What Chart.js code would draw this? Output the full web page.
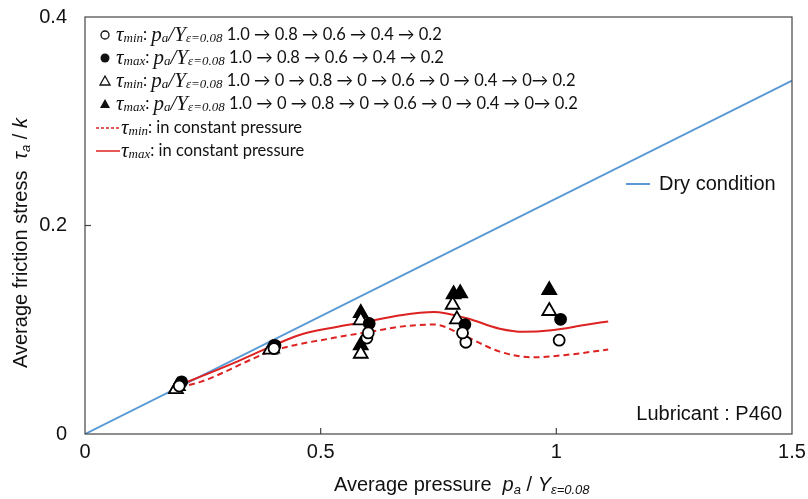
<!DOCTYPE html>
<html>
<head>
<meta charset="utf-8">
<script src="https://cdn.jsdelivr.net/npm/chart.js@4"></script>
<style>
  html, body { margin: 0; padding: 0; background: #fff; }
  #wrap { width: 808px; height: 499px; }
</style>
</head>
<body>
<div id="wrap"><canvas id="chart" width="808" height="499"></canvas></div>
<script>
// Measured points (pa/Y, tau/k)
const openCircleX = [1.006, 0.808, 0.801, 0.598, 0.601, 0.401, 0.200];
const openCircleY = [0.090, 0.088, 0.097, 0.092, 0.097, 0.082, 0.046];
const fillCircleX = [1.009, 0.806, 0.603, 0.403, 0.205];
const fillCircleY = [0.110, 0.105, 0.106, 0.085, 0.050];
const openTriX = [0.985, 0.780, 0.789, 0.585, 0.585, 0.393, 0.193];
const openTriY = [0.118, 0.124, 0.110, 0.109, 0.077, 0.081, 0.043];
const fillTriX = [0.985, 0.782, 0.796, 0.585, 0.585, 0.397, 0.197];
const fillTriY = [0.138, 0.134, 0.135, 0.116, 0.085, 0.082, 0.046];

// Constant pressure curves
const maxCurveX = [0.2, 0.245, 0.315, 0.4, 0.455, 0.525, 0.6, 0.67, 0.74, 0.81, 0.88, 0.93, 0.99, 1.06, 1.11];
const maxCurveY = [0.047, 0.055, 0.068, 0.085, 0.095, 0.102, 0.108, 0.114, 0.117, 0.111, 0.101, 0.098, 0.0995, 0.1045, 0.108];
const minCurveX = [0.2, 0.245, 0.4, 0.525, 0.63, 0.67, 0.74, 0.81, 0.88, 0.95, 1.02, 1.11];
const minCurveY = [0.045, 0.050, 0.080, 0.092, 0.100, 0.103, 0.105, 0.093, 0.079, 0.0735, 0.0758, 0.081];

// Dry condition line
const dryX = [0, 1.5];
const dryY = [0, 0.339];

const xTicks = [0, 0.5, 1, 1.5];
const yTicks = [0, 0.2, 0.4];

const toPts = (xs, ys) => xs.map((x, i) => ({ x: x, y: ys[i] }));
const RED = '#dd2222';
const BLUE = '#5b9bd5';

// draws a run of [text, font, dy] pieces, returns end x
function drawRuns(ctx, x, y, runs) {
  runs.forEach(r => {
    ctx.font = r[1];
    ctx.fillText(r[0], x, y + (r[2] || 0));
    x += ctx.measureText(r[0]).width;
  });
  return x;
}

const M = 'italic 21px "Liberation Serif"';
const S = 'italic 13px "Liberation Serif"';
const T = '16.5px Lato';

function tauRuns(sub) {
  return [['τ', M], [sub, S, 4], [': ', T]];
}
const paY = [['p', M], ['a', S, 4], ['/', M], ['Y', M], ['ε=0.08', S, 4], [' ', T]];

const decor = {
  id: 'decor',
  afterDatasetsDraw(chart) {
    const ctx = chart.ctx;
    const a = chart.chartArea;
    const xs = chart.scales.x, ys = chart.scales.y;
    ctx.save();
    // frame
    ctx.strokeStyle = '#444';
    ctx.lineWidth = 1.2;
    ctx.strokeRect(a.left, a.top, a.right - a.left, a.bottom - a.top);
    // inner ticks
    xTicks.slice(1, -1).forEach(v => {
      const px = xs.getPixelForValue(v);
      ctx.beginPath(); ctx.moveTo(px, a.bottom); ctx.lineTo(px, a.bottom - 6); ctx.stroke();
    });
    yTicks.slice(1, -1).forEach(v => {
      const py = ys.getPixelForValue(v);
      ctx.beginPath(); ctx.moveTo(a.left, py); ctx.lineTo(a.left + 6, py); ctx.stroke();
    });

    ctx.fillStyle = '#111';
    ctx.textBaseline = 'middle';
    ctx.textAlign = 'left';

    // legend of markers
    const rows = [35, 58, 81, 104, 128, 151];
    const seq1 = '1.0 → 0.8 → 0.6 → 0.4 → 0.2';
    const seq2 = '1.0 → 0 → 0.8 → 0 → 0.6 → 0 → 0.4 → 0→ 0.2';
    const mx = 105, tx = 116;
    ctx.lineWidth = 1.3;
    ctx.strokeStyle = '#111';
    // open circle
    ctx.beginPath(); ctx.arc(mx, rows[0], 4, 0, Math.PI * 2); ctx.stroke();
    drawRuns(ctx, tx, rows[0], tauRuns('min').concat(paY, [[seq1, T]]));
    // filled circle
    ctx.beginPath(); ctx.arc(mx, rows[1], 4.5, 0, Math.PI * 2); ctx.fill();
    drawRuns(ctx, tx, rows[1], tauRuns('max').concat(paY, [[seq1, T]]));
    // open triangle
    ctx.beginPath(); ctx.moveTo(mx, rows[2] - 5); ctx.lineTo(mx + 5, rows[2] + 4); ctx.lineTo(mx - 5, rows[2] + 4); ctx.closePath(); ctx.stroke();
    drawRuns(ctx, tx, rows[2], tauRuns('min').concat(paY, [[seq2, T]]));
    // filled triangle
    ctx.beginPath(); ctx.moveTo(mx, rows[3] - 5); ctx.lineTo(mx + 5, rows[3] + 4); ctx.lineTo(mx - 5, rows[3] + 4); ctx.closePath(); ctx.fill();
    drawRuns(ctx, tx, rows[3], tauRuns('max').concat(paY, [[seq2, T]]));
    // curves
    ctx.strokeStyle = RED;
    ctx.lineWidth = 1.5;
    ctx.setLineDash([3, 2]);
    ctx.beginPath(); ctx.moveTo(96, rows[4]); ctx.lineTo(120, rows[4]); ctx.stroke();
    ctx.setLineDash([]);
    ctx.beginPath(); ctx.moveTo(96, rows[5]); ctx.lineTo(120, rows[5]); ctx.stroke();
    drawRuns(ctx, 121, rows[4], tauRuns('min').concat([['in constant pressure', T]]));
    drawRuns(ctx, 121, rows[5], tauRuns('max').concat([['in constant pressure', T]]));

    const XS = '20px "Liberation Sans"';
    const XI = 'italic 20px "Liberation Sans"';
    const XSub = 'italic 13px "Liberation Sans"';

    // dry condition legend
    ctx.strokeStyle = BLUE;
    ctx.lineWidth = 2;
    ctx.beginPath(); ctx.moveTo(626, 184); ctx.lineTo(650, 184); ctx.stroke();
    ctx.font = XS;
    ctx.fillText('Dry condition', 659, 184);

    // lubricant note
    ctx.textAlign = 'right';
    ctx.fillText('Lubricant : P460', 782, 414);

    // x title
    ctx.textAlign = 'left';
    drawRuns(ctx, 334, 485, [['Average pressure  ', XS], ['p', XI], ['a', XSub, 5], [' / ', XS], ['Y', XI], ['ε=0.08', XSub, 5]]);

    // y title
    ctx.save();
    ctx.translate(21, 368);
    ctx.rotate(-Math.PI / 2);
    drawRuns(ctx, 0, 0, [['Average friction stress  ', XS], ['τ', XI], ['a', XSub, 5], [' / ', XS], ['k', XI]]);
    ctx.restore();

    ctx.restore();
  }
};

const scatterStyle = (style, filled, r) => ({
  type: 'scatter',
  pointStyle: style,
  pointRadius: r,
  pointHoverRadius: r,
  pointBorderWidth: 1.8,
  borderColor: '#000',
  backgroundColor: filled ? '#000' : '#fff'
});

new Chart(document.getElementById('chart'), {
  type: 'scatter',
  data: {
    datasets: [
      Object.assign({ label: 'open circle', data: toPts(openCircleX, openCircleY) }, scatterStyle('circle', false, 5.5)),
      Object.assign({ label: 'filled circle', data: toPts(fillCircleX, fillCircleY) }, scatterStyle('circle', true, 5.5)),
      Object.assign({ label: 'open triangle', data: toPts(openTriX, openTriY) }, scatterStyle('triangle', false, 8)),
      Object.assign({ label: 'filled triangle', data: toPts(fillTriX, fillTriY) }, scatterStyle('triangle', true, 8)),
      {
        type: 'line', label: 'tau max constant', data: toPts(maxCurveX, maxCurveY),
        borderColor: RED, borderWidth: 2, pointRadius: 0, cubicInterpolationMode: 'monotone', fill: false
      },
      {
        type: 'line', label: 'tau min constant', data: toPts(minCurveX, minCurveY),
        borderColor: RED, borderWidth: 2, borderDash: [6, 4], pointRadius: 0, cubicInterpolationMode: 'monotone', fill: false
      },
      {
        type: 'line', label: 'Dry condition', data: toPts(dryX, dryY),
        borderColor: BLUE, borderWidth: 2, pointRadius: 0, fill: false
      }
    ]
  },
  options: {
    responsive: false,
    animation: false,
    layout: { padding: { top: 17, right: 16, left: 0, bottom: 0 } },
    plugins: {
      legend: { display: false },
      tooltip: { enabled: false }
    },
    scales: {
      x: {
        type: 'linear', min: 0, max: 1.5,
        afterBuildTicks: s => { s.ticks = xTicks.map(v => ({ value: v })); },
        afterFit: s => { s.height = 65; s.paddingLeft = 0; s.paddingRight = 0; },
        grid: { display: false, drawTicks: false },
        border: { display: false },
        ticks: {
          color: '#111', padding: 6,
          font: { family: '"Liberation Sans"', size: 20 },
          callback: v => String(v)
        }
      },
      y: {
        type: 'linear', min: 0, max: 0.4,
        afterBuildTicks: s => { s.ticks = yTicks.map(v => ({ value: v })); },
        afterFit: s => { s.width = 85; s.paddingTop = 0; s.paddingBottom = 0; },
        grid: { display: false, drawTicks: false },
        border: { display: false },
        ticks: {
          color: '#111', padding: 18,
          font: { family: '"Liberation Sans"', size: 20 },
          callback: v => String(v)
        }
      }
    }
  },
  plugins: [decor]
});
</script>
</body>
</html>
